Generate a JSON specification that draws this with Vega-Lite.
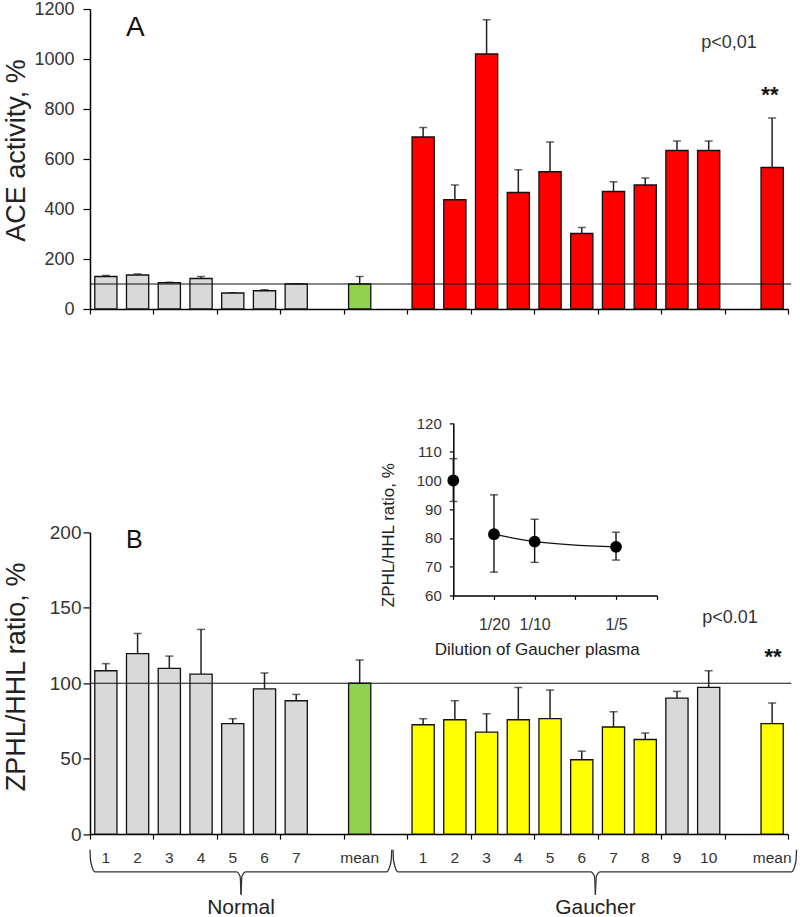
{
  "$schema": "https://vega.github.io/schema/vega-lite/v6.json",
  "padding": {"left": 2, "top": 0, "right": 0, "bottom": 0},
  "background": "white",
  "bounds": "flush",
  "spacing": 223.4,
  "config": {
    "font": "Liberation Sans",
    "view": {"stroke": null},
    "axis": {"domainColor": "#000", "tickColor": "#000", "labelColor": "#333", "titleColor": "#222", "grid": false, "domainWidth": 1.5, "tickWidth": 1.2, "titleFontWeight": "normal", "labelFont": "Liberation Sans", "titleFont": "Liberation Sans"}
  },
  "resolve": {"scale": {"color": "independent"}},
  "vconcat": [
    {
      "width": 698,
      "height": 300,
      "layer": [
        {
          "data": {"values": [
            {"slot": 0, "val": 130, "hi": 134, "kind": "Normal"},
            {"slot": 1, "val": 136, "hi": 140, "kind": "Normal"},
            {"slot": 2, "val": 105, "hi": 107, "kind": "Normal"},
            {"slot": 3, "val": 122, "hi": 130, "kind": "Normal"},
            {"slot": 4, "val": 64, "hi": 65, "kind": "Normal"},
            {"slot": 5, "val": 73, "hi": 77, "kind": "Normal"},
            {"slot": 6, "val": 100, "hi": 101, "kind": "Normal"},
            {"slot": 8, "val": 100, "hi": 130, "kind": "Normal mean"},
            {"slot": 10, "val": 688, "hi": 726, "kind": "Gaucher"},
            {"slot": 11, "val": 437, "hi": 496, "kind": "Gaucher"},
            {"slot": 12, "val": 1020, "hi": 1157, "kind": "Gaucher"},
            {"slot": 13, "val": 466, "hi": 557, "kind": "Gaucher"},
            {"slot": 14, "val": 549, "hi": 668, "kind": "Gaucher"},
            {"slot": 15, "val": 302, "hi": 326, "kind": "Gaucher"},
            {"slot": 16, "val": 470, "hi": 509, "kind": "Gaucher"},
            {"slot": 17, "val": 496, "hi": 524, "kind": "Gaucher"},
            {"slot": 18, "val": 634, "hi": 672, "kind": "Gaucher"},
            {"slot": 19, "val": 634, "hi": 672, "kind": "Gaucher"},
            {"slot": 21, "val": 566, "hi": 764, "kind": "Gaucher"}
          ]},
          "transform": [
            {"calculate": "datum.slot + 0.15", "as": "x0"},
            {"calculate": "datum.slot + 0.85", "as": "x1"},
            {"calculate": "datum.slot + 0.5", "as": "xc"}
          ],
          "layer": [
            {
              "mark": {"type": "rule", "stroke": "#222", "strokeWidth": 1.5},
              "encoding": {
                "x": {"field": "xc", "type": "quantitative", "scale": {"domain": [0, 22], "nice": false, "zero": false, "padding": 0},
                  "axis": {"values": [0,1,2,3,4,5,6,7,8,9,10,11,12,13,14,15,16,17,18,19,20,21,22], "labels": false, "tickSize": 5, "title": null}},
                "y": {"field": "val", "type": "quantitative", "scale": {"domain": [0, 1200], "nice": false, "padding": 0},
                  "axis": {"values": [0, 200, 400, 600, 800, 1000, 1200], "format": "d", "tickSize": 7, "labelFontSize": 18, "labelPadding": 9, "title": "ACE activity, %", "titleFontSize": 27, "titleX": -73.5, "titleY": 141, "titleBaseline": "middle"}},
                "y2": {"field": "hi"}
              }
            },
            {
              "mark": {"type": "tick", "orient": "horizontal", "size": 8, "thickness": 1.5, "color": "#222"},
              "encoding": {
                "x": {"field": "xc", "type": "quantitative"},
                "y": {"field": "hi", "type": "quantitative"}
              }
            },
            {
              "mark": {"type": "bar", "orient": "vertical", "stroke": "#111", "strokeWidth": 1.3},
              "encoding": {
                "x": {"field": "x0", "type": "quantitative"},
                "x2": {"field": "x1"},
                "y": {"field": "val", "type": "quantitative"},
                "y2": {"datum": 0},
                "color": {"field": "kind", "type": "nominal", "scale": {"domain": ["Normal", "Normal mean", "Gaucher"], "range": ["#d9d9d9", "#92d050", "#ff0000"]}, "legend": null}
              }
            }
          ]
        },
        {
          "data": {"values": [{}]},
          "layer": [
            {
              "mark": {"type": "rule", "stroke": "#111", "strokeWidth": 1.2},
              "encoding": {"x": {"datum": 0}, "x2": {"datum": 22.1}, "y": {"datum": 100}}
            },
            {
              "mark": {"type": "text", "text": "A", "fontSize": 28, "color": "#111"},
              "encoding": {"x": {"datum": 1.43}, "y": {"datum": 1125}}
            },
            {
              "mark": {"type": "text", "text": "p<0,01", "fontSize": 18, "color": "#333"},
              "encoding": {"x": {"datum": 20.14}, "y": {"datum": 1065}}
            },
            {
              "mark": {"type": "text", "text": "**", "fontSize": 22, "fontWeight": "bold", "color": "#111", "baseline": "alphabetic"},
              "encoding": {"x": {"datum": 21.43}, "y": {"datum": 827}}
            }
          ]
        }
      ]
    },
    {
      "width": 698,
      "height": 301.7,
      "resolve": {"scale": {"x": "independent", "y": "independent"}},
      "layer": [
        {
          "layer": [
            {
              "data": {"values": [
                {"slot": 0, "val": 108.3, "hi": 113, "kind": "Normal"},
                {"slot": 1, "val": 119.6, "hi": 133, "kind": "Normal"},
                {"slot": 2, "val": 109.8, "hi": 118, "kind": "Normal"},
                {"slot": 3, "val": 106, "hi": 135.7, "kind": "Normal"},
                {"slot": 4, "val": 73.3, "hi": 76.5, "kind": "Normal"},
                {"slot": 5, "val": 96.3, "hi": 106.8, "kind": "Normal"},
                {"slot": 6, "val": 88.4, "hi": 92.6, "kind": "Normal"},
                {"slot": 8, "val": 100, "hi": 115.4, "kind": "Normal mean"},
                {"slot": 10, "val": 72.5, "hi": 76.5, "kind": "Gaucher"},
                {"slot": 11, "val": 75.8, "hi": 88.4, "kind": "Gaucher"},
                {"slot": 12, "val": 67.6, "hi": 79.8, "kind": "Gaucher"},
                {"slot": 13, "val": 75.8, "hi": 97.2, "kind": "Gaucher"},
                {"slot": 14, "val": 76.5, "hi": 95.5, "kind": "Gaucher"},
                {"slot": 15, "val": 49.3, "hi": 55, "kind": "Gaucher"},
                {"slot": 16, "val": 71, "hi": 81.1, "kind": "Gaucher"},
                {"slot": 17, "val": 62.7, "hi": 67, "kind": "Gaucher"},
                {"slot": 18, "val": 90.2, "hi": 94.6, "kind": "Gaucher, unchanged"},
                {"slot": 19, "val": 97.2, "hi": 108.3, "kind": "Gaucher, unchanged"},
                {"slot": 21, "val": 73.3, "hi": 86.9, "kind": "Gaucher"}
              ]},
              "transform": [
                {"calculate": "datum.slot + 0.15", "as": "x0"},
                {"calculate": "datum.slot + 0.85", "as": "x1"},
                {"calculate": "datum.slot + 0.5", "as": "xc"}
              ],
              "layer": [
                {
                  "mark": {"type": "rule", "stroke": "#222", "strokeWidth": 1.5},
                  "encoding": {
                    "x": {"field": "xc", "type": "quantitative", "scale": {"domain": [0, 22], "nice": false, "zero": false, "padding": 0},
                      "axis": {"values": [0,1,2,3,4,5,6,7,8,9,10,11,12,13,14,15,16,17,18,19,20,21,22], "labels": false, "tickSize": 5, "title": null}},
                    "y": {"field": "val", "type": "quantitative", "scale": {"domain": [0, 200], "nice": false, "padding": 0},
                      "axis": {"values": [0, 50, 100, 150, 200], "tickSize": 7, "labelFontSize": 19, "labelPadding": 2, "title": "ZPHL/HHL ratio, %", "titleFontSize": 27, "titleX": -73.5, "titleY": 144, "titleBaseline": "middle"}},
                    "y2": {"field": "hi"}
                  }
                },
                {
                  "mark": {"type": "tick", "orient": "horizontal", "size": 8, "thickness": 1.5, "color": "#222"},
                  "encoding": {
                    "x": {"field": "xc", "type": "quantitative"},
                    "y": {"field": "hi", "type": "quantitative"}
                  }
                },
                {
                  "mark": {"type": "bar", "orient": "vertical", "stroke": "#111", "strokeWidth": 1.3},
                  "encoding": {
                    "x": {"field": "x0", "type": "quantitative"},
                    "x2": {"field": "x1"},
                    "y": {"field": "val", "type": "quantitative"},
                    "y2": {"datum": 0},
                    "color": {"field": "kind", "type": "nominal", "scale": {"domain": ["Normal", "Normal mean", "Gaucher", "Gaucher, unchanged"], "range": ["#d9d9d9", "#92d050", "#ffff00", "#d9d9d9"]}, "legend": null}
                  }
                }
              ]
            },
            {
              "data": {"values": [
                {"slot": 0, "lab": "1"}, {"slot": 1, "lab": "2"}, {"slot": 2, "lab": "3"}, {"slot": 3, "lab": "4"},
                {"slot": 4, "lab": "5"}, {"slot": 5, "lab": "6"}, {"slot": 6, "lab": "7"}, {"slot": 8, "lab": "mean"},
                {"slot": 10, "lab": "1"}, {"slot": 11, "lab": "2"}, {"slot": 12, "lab": "3"}, {"slot": 13, "lab": "4"},
                {"slot": 14, "lab": "5"}, {"slot": 15, "lab": "6"}, {"slot": 16, "lab": "7"}, {"slot": 17, "lab": "8"},
                {"slot": 18, "lab": "9"}, {"slot": 19, "lab": "10"}, {"slot": 21, "lab": "mean"}
              ]},
              "transform": [{"calculate": "datum.slot + 0.5", "as": "xc"}],
              "mark": {"type": "text", "fontSize": 15.5, "color": "#333"},
              "encoding": {
                "x": {"field": "xc", "type": "quantitative"},
                "y": {"datum": -15.7},
                "text": {"field": "lab"}
              }
            },
            {
              "data": {"values": [
                {"part": "N1", "o": 0, "bx": 0, "by": -10.4},
                {"part": "N1", "o": 1, "bx": 0.02, "by": -18},
                {"part": "N1", "o": 2, "bx": 0.16, "by": -25},
                {"part": "N1", "o": 3, "bx": 4.61, "by": -25},
                {"part": "N1", "o": 4, "bx": 4.73, "by": -28},
                {"part": "N1", "o": 5, "bx": 4.76, "by": -40.2},
                {"part": "N2", "o": 0, "bx": 4.76, "by": -40.2},
                {"part": "N2", "o": 1, "bx": 4.79, "by": -28},
                {"part": "N2", "o": 2, "bx": 4.91, "by": -25},
                {"part": "N2", "o": 3, "bx": 9.35, "by": -25},
                {"part": "N2", "o": 4, "bx": 9.49, "by": -18},
                {"part": "N2", "o": 5, "bx": 9.51, "by": -10.4},
                {"part": "G1", "o": 0, "bx": 9.55, "by": -10.4},
                {"part": "G1", "o": 1, "bx": 9.57, "by": -18},
                {"part": "G1", "o": 2, "bx": 9.71, "by": -25},
                {"part": "G1", "o": 3, "bx": 15.78, "by": -25},
                {"part": "G1", "o": 4, "bx": 15.9, "by": -28},
                {"part": "G1", "o": 5, "bx": 15.93, "by": -40.2},
                {"part": "G2", "o": 0, "bx": 15.93, "by": -40.2},
                {"part": "G2", "o": 1, "bx": 15.96, "by": -28},
                {"part": "G2", "o": 2, "bx": 16.08, "by": -25},
                {"part": "G2", "o": 3, "bx": 22.11, "by": -25},
                {"part": "G2", "o": 4, "bx": 22.25, "by": -18},
                {"part": "G2", "o": 5, "bx": 22.27, "by": -10.4}
              ]},
              "mark": {"type": "line", "interpolate": "monotone", "stroke": "#333", "strokeWidth": 1.3},
              "encoding": {
                "x": {"field": "bx", "type": "quantitative"},
                "y": {"field": "by", "type": "quantitative"},
                "detail": {"field": "part"},
                "order": {"field": "o"}
              }
            },
            {
              "data": {"values": [{"grp": "Normal", "c": 4.76}, {"grp": "Gaucher", "c": 15.93}]},
              "mark": {"type": "text", "fontSize": 21, "color": "#222"},
              "encoding": {
                "x": {"field": "c", "type": "quantitative"},
                "y": {"datum": -48.9},
                "text": {"field": "grp"}
              }
            },
            {
              "data": {"values": [{}]},
              "layer": [
                {
                  "mark": {"type": "rule", "stroke": "#111", "strokeWidth": 1.2},
                  "encoding": {"x": {"datum": 0}, "x2": {"datum": 22.1}, "y": {"datum": 100}}
                },
                {
                  "mark": {"type": "text", "text": "B", "fontSize": 25, "color": "#111"},
                  "encoding": {"x": {"datum": 1.4}, "y": {"datum": 194.8}}
                },
                {
                  "mark": {"type": "text", "text": "p<0.01", "fontSize": 18, "color": "#333"},
                  "encoding": {"x": {"datum": 20.17}, "y": {"datum": 143.4}}
                },
                {
                  "mark": {"type": "text", "text": "**", "fontSize": 22, "fontWeight": "bold", "color": "#111", "baseline": "alphabetic"},
                  "encoding": {"x": {"datum": 21.53}, "y": {"datum": 112.6}}
                }
              ]
            }
          ]
        },
        {
          "data": {"values": [
            {"dil": 0, "ratio": 100, "lo": 92.7, "hi": 107.6},
            {"dil": 1, "ratio": 81.3, "lo": 68.1, "hi": 95},
            {"dil": 2, "ratio": 78.7, "lo": 71.5, "hi": 86.5},
            {"dil": 4, "ratio": 76.9, "lo": 72.3, "hi": 82}
          ]},
          "layer": [
            {
              "mark": {"type": "rule", "stroke": "#111", "strokeWidth": 1.4},
              "encoding": {
                "x": {"field": "dil", "type": "quantitative", "scale": {"domain": [0, 5], "range": [363.3, 566.7], "nice": false, "zero": false, "padding": 0},
                  "axis": {"orient": "bottom", "offset": -238.7, "values": [0, 1, 2, 3, 4, 5], "tickSize": 4, "labelFontSize": 16, "labelPadding": 17, "labelExpr": "datum.value == 1 ? '1/20' : datum.value == 2 ? '1/10' : datum.value == 4 ? '1/5' : ''", "title": "Dilution of Gaucher plasma", "titleFontSize": 17, "titleX": 446.7, "titleY": 54.3, "titleBaseline": "middle"}},
                "y": {"field": "lo", "type": "quantitative", "scale": {"domain": [60, 120], "range": [63, -109.4], "nice": false, "zero": false, "padding": 0},
                  "axis": {"orient": "left", "offset": -363.3, "values": [60, 70, 80, 90, 100, 110, 120], "tickSize": 4, "labelFontSize": 15, "labelPadding": 8, "title": "ZPHL/HHL ratio, %", "titleFontSize": 17, "titleX": -65.3, "titleY": 2.3, "titleBaseline": "middle"}},
                "y2": {"field": "hi"}
              }
            },
            {
              "mark": {"type": "tick", "orient": "horizontal", "size": 8, "thickness": 1.4, "color": "#111"},
              "encoding": {
                "x": {"field": "dil", "type": "quantitative"},
                "y": {"field": "hi", "type": "quantitative"}
              }
            },
            {
              "mark": {"type": "tick", "orient": "horizontal", "size": 8, "thickness": 1.4, "color": "#111"},
              "encoding": {
                "x": {"field": "dil", "type": "quantitative"},
                "y": {"field": "lo", "type": "quantitative"}
              }
            },
            {
              "transform": [{"filter": "datum.dil > 0"}],
              "mark": {"type": "line", "interpolate": "monotone", "stroke": "#111", "strokeWidth": 1.2},
              "encoding": {
                "x": {"field": "dil", "type": "quantitative"},
                "y": {"field": "ratio", "type": "quantitative"}
              }
            },
            {
              "mark": {"type": "point", "filled": true, "size": 140, "color": "#000", "opacity": 1},
              "encoding": {
                "x": {"field": "dil", "type": "quantitative"},
                "y": {"field": "ratio", "type": "quantitative"}
              }
            }
          ]
        }
      ]
    }
  ]
}
